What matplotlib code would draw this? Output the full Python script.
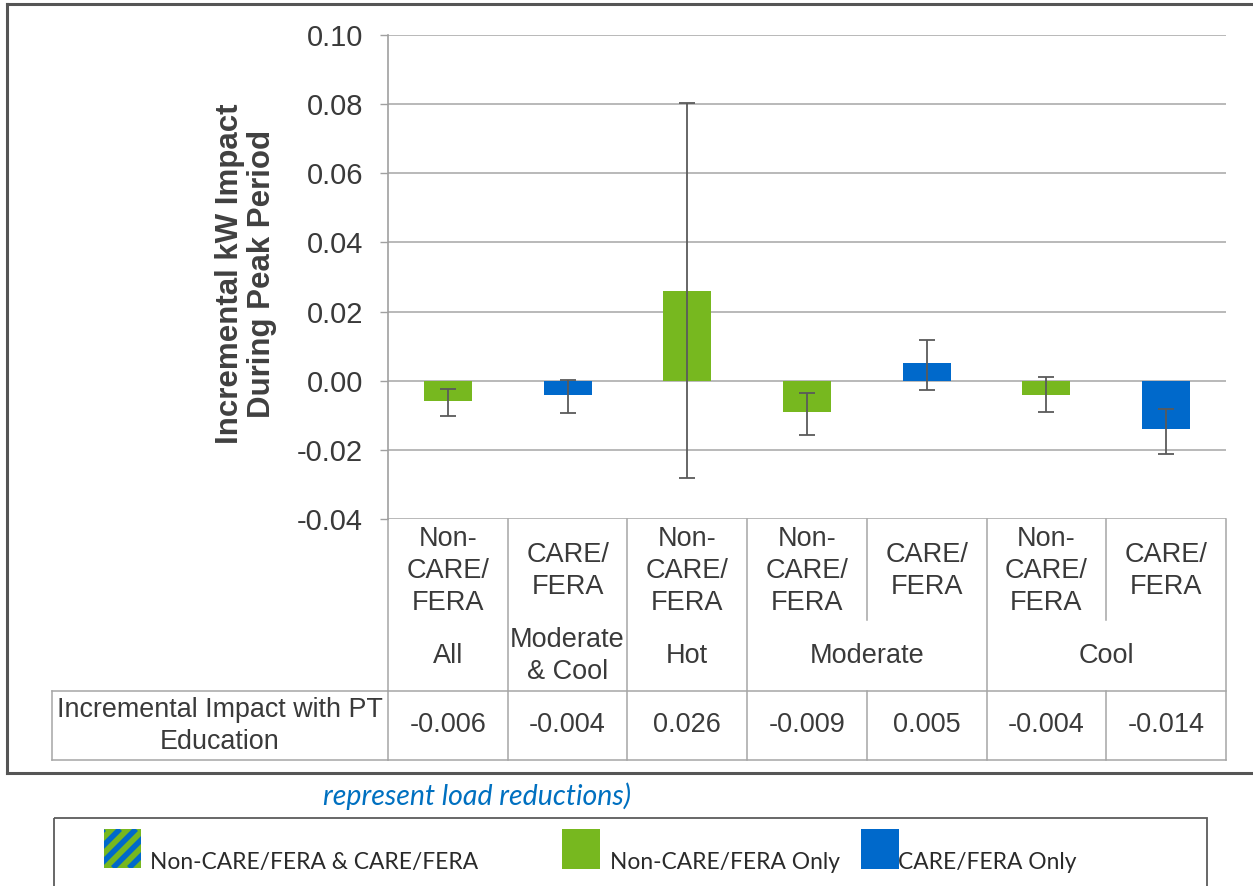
import matplotlib
matplotlib.use("Agg")
import matplotlib.pyplot as plt
import numpy as np
from matplotlib.patches import Rectangle
from matplotlib.transforms import blended_transform_factory

# ---------------- data ----------------
subgroups = ["Non-\nCARE/\nFERA", "CARE/\nFERA", "Non-\nCARE/\nFERA",
             "Non-\nCARE/\nFERA", "CARE/\nFERA", "Non-\nCARE/\nFERA", "CARE/\nFERA"]
groups = ["All", "Moderate\n& Cool", "Hot", "Moderate", "Cool"]
group_index = [0, 1, 2, 3, 3, 4, 4]
series = ["Non-CARE/FERA", "CARE/FERA", "Non-CARE/FERA", "Non-CARE/FERA",
          "CARE/FERA", "Non-CARE/FERA", "CARE/FERA"]
impact = [-0.006, -0.004, 0.026, -0.009, 0.005, -0.004, -0.014]
ci_low = [-0.0101, -0.0092, -0.0280, -0.0156, -0.0026, -0.0090, -0.0211]
ci_high = [-0.0023, 0.0003, 0.0803, -0.0035, 0.0118, 0.0010, -0.0081]
row_label = "Incremental Impact with PT\nEducation"
y_ticks = [-0.04, -0.02, 0.00, 0.02, 0.04, 0.06, 0.08, 0.10]
y_label = "Incremental kW Impact\nDuring Peak Period"
legend_labels = ["Non-CARE/FERA & CARE/FERA", "Non-CARE/FERA Only", "CARE/FERA Only"]
note_text = "represent load reductions)"

GREEN = "#77B81F"
BLUE = "#0069CB"
series_colors = {"Non-CARE/FERA": GREEN, "CARE/FERA": BLUE}

# ---------------- figure ----------------
W, H = 1253, 886
plt.rcParams["axes.unicode_minus"] = False
plt.rcParams["font.family"] = ["Liberation Sans", "DejaVu Sans"]

fig = plt.figure(figsize=(W / 100, H / 100), dpi=100)
fig.patch.set_facecolor("white")

ov = fig.add_axes([0, 0, 1, 1])
ov.set_xlim(0, W)
ov.set_ylim(H, 0)
ov.axis("off")

ax_l, ax_r, ax_t, ax_b = 388, 1226, 35, 519
ax = fig.add_axes([ax_l / W, 1 - ax_b / H, (ax_r - ax_l) / W, (ax_b - ax_t) / H])
ax.patch.set_alpha(0)

x = np.arange(len(impact))
vals = np.array(impact)
lo = np.array(ci_low)
hi = np.array(ci_high)
ax.bar(x, vals, width=0.4, color=[series_colors[s] for s in series], zorder=3)
ax.errorbar(x, vals, yerr=[vals - lo, hi - vals], fmt="none", ecolor="#5a5a5a",
            elinewidth=1.3, capsize=5.5, capthick=1.3, zorder=4)

ax.set_xlim(-0.5, len(impact) - 0.5)
ax.set_ylim(-0.04, 0.10)
ax.set_yticks(y_ticks)
ax.set_yticklabels([f"{t:.2f}" for t in y_ticks], fontsize=21, color="#3a3a3a")
ax.set_xticks([])
ax.tick_params(axis="y", length=6, width=1, color="#a0a0a0", pad=12)
ax.yaxis.grid(True, color="#a6a6a6", linewidth=1.1)
ax.set_axisbelow(True)
for s in ["top", "right", "bottom"]:
    ax.spines[s].set_visible(False)
ax.spines["left"].set_color("#a0a0a0")
ax.spines["left"].set_linewidth(1.2)

ov.text(246, 274, y_label, rotation=90, ha="center", va="center", fontsize=22.5,
        fontweight="bold", color="#404040", linespacing=1.1)

# ---------------- table under the axis ----------------
tr = blended_transform_factory(ax.transData, ov.transData)
tcol = "#a6a6a6"
lw = 1.1
row1_top, sub_bot, row1_bot, row2_bot = ax_b, 620, 691, 760
n = len(impact)
for k in range(n + 1):
    xb = k - 0.5
    same_group = 0 < k < n and group_index[k - 1] == group_index[k]
    if same_group:
        ov.plot([xb, xb], [row1_top, sub_bot], color=tcol, lw=lw, transform=tr)
        ov.plot([xb, xb], [row1_bot, row2_bot], color=tcol, lw=lw, transform=tr)
    else:
        ov.plot([xb, xb], [row1_top, row2_bot], color=tcol, lw=lw, transform=tr)
for yy in [row1_bot, row2_bot]:
    ov.plot([-0.5, n - 0.5], [yy, yy], color=tcol, lw=lw, transform=tr)
    ov.plot([52, ax_l], [yy, yy], color=tcol, lw=lw)
ov.plot([52, 52], [row1_bot, row2_bot], color=tcol, lw=lw)

tc = "#3a3a3a"
for i, lab in enumerate(subgroups):
    ov.text(i, 571, lab, transform=tr, ha="center", va="center", fontsize=19.5,
            color=tc, linespacing=1.3)
for g, lab in enumerate(groups):
    idx = [i for i in range(n) if group_index[i] == g]
    ov.text(np.mean(idx), 656, lab, transform=tr, ha="center", va="center",
            fontsize=19.5, color=tc, linespacing=1.3)
for i, v in enumerate(impact):
    ov.text(i, 725, f"{v:.3f}", transform=tr, ha="center", va="center",
            fontsize=19.5, color=tc)
ov.text(220, 726, row_label, ha="center", va="center", fontsize=19.4, color=tc,
        linespacing=1.3)

# ---------------- outer frame ----------------
fc = "#555555"
ov.plot([7, W + 5], [4, 4], color=fc, lw=2.2)
ov.plot([7, 7], [4, 773], color=fc, lw=2.2)
ov.plot([7, W + 5], [773, 773], color=fc, lw=2.2)

# ---------------- note and legend ----------------
ov.text(323, 796, note_text, ha="left", va="center", fontsize=20.5,
        style="italic", color="#0070C0", family=["Lato", "DejaVu Sans"])

ov.add_patch(Rectangle((54, 818), 1207 - 54, 120, facecolor="none",
                       edgecolor="#5c5c5c", lw=1.3))
sq = Rectangle((104, 829), 37, 39, facecolor=GREEN, lw=0)
ov.add_patch(sq)
for x0 in np.arange(104 - 39 - 16, 141 + 16, 16):
    ln, = ov.plot([x0, x0 + 39], [868, 829], color=BLUE, lw=4.0,
                  solid_capstyle="butt")
    ln.set_clip_path(sq)
ov.add_patch(Rectangle((562, 829), 38, 40, facecolor=GREEN, lw=0))
ov.add_patch(Rectangle((861, 829), 38, 40, facecolor=BLUE, lw=0))
for xx, lab in zip([150, 610, 898], legend_labels):
    ov.text(xx, 869, lab, ha="left", va="baseline", fontsize=16.4,
            color="#2a2a2a", family=["Lato", "DejaVu Sans"])

fig.savefig("out.png", dpi=100)
